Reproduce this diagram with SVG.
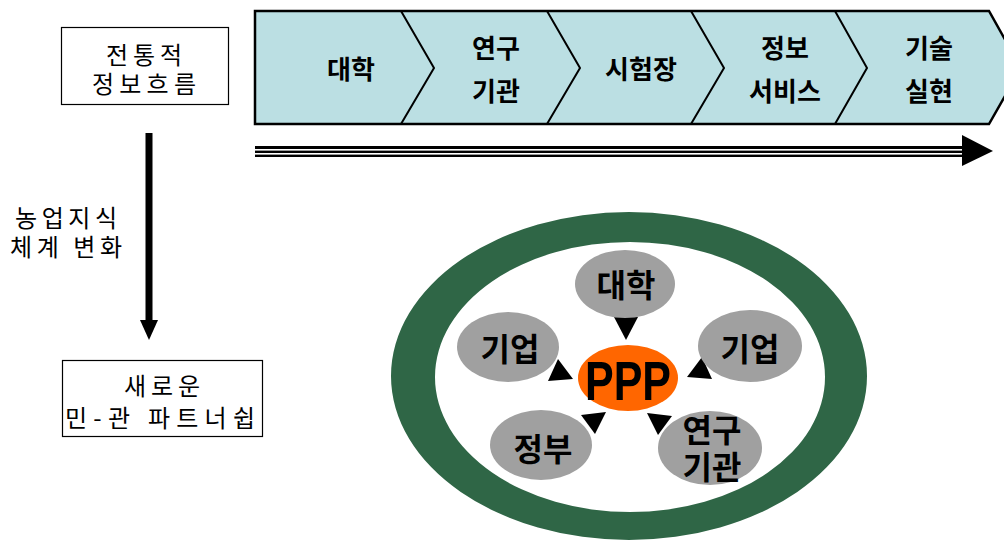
<svg xmlns="http://www.w3.org/2000/svg" width="1004" height="540" viewBox="0 0 1004 540">
<style>
.lbl{font-family:"Noto Sans CJK KR","Noto Sans",sans-serif;font-size:24px;fill:#000;text-anchor:middle}
.chv{font-family:"Noto Sans CJK KR","Noto Sans",sans-serif;font-size:26px;font-weight:bold;fill:#000;text-anchor:middle}
.bub{font-family:"Noto Sans CJK KR","Noto Sans",sans-serif;font-size:32px;font-weight:bold;fill:#000;text-anchor:middle}
.box{fill:#fff;stroke:#000;stroke-width:1.2}
.gray{fill:#A0A0A0}
.head{fill:#000}
</style>
<rect width="1004" height="540" fill="#fff"/>

<g id="chevron-bar">
  <path d="M255,11 H989 L1021,68 L989,124 H255 Z" fill="#BBDFE3" stroke="#000" stroke-width="2.5"/>
  <polyline points="401,11 434,68 401,124" fill="none" stroke="#000" stroke-width="2"/>
  <polyline points="547,11 580,68 547,124" fill="none" stroke="#000" stroke-width="2"/>
  <polyline points="691,11 724,68 691,124" fill="none" stroke="#000" stroke-width="2"/>
  <polyline points="835,11 867,68 835,124" fill="none" stroke="#000" stroke-width="2"/>
  <text class="chv" x="351" y="79">대학</text>
  <text class="chv" x="496" y="58">연구</text>
  <text class="chv" x="496" y="101">기관</text>
  <text class="chv" x="641" y="79">시험장</text>
  <text class="chv" x="785" y="58">정보</text>
  <text class="chv" x="785" y="101">서비스</text>
  <text class="chv" x="929" y="58">기술</text>
  <text class="chv" x="929" y="101">실현</text>
</g>

<g id="traditional">
  <rect class="box" x="61.5" y="27.5" width="167" height="77"/>
  <text class="lbl" x="144" y="64" textLength="76" lengthAdjust="spacing">전통적</text>
  <text class="lbl" x="144" y="93" textLength="104" lengthAdjust="spacing">정보흐름</text>
</g>

<g id="change-label">
  <text class="lbl" x="66" y="227" font-size="25" textLength="102" lengthAdjust="spacing">농업지식</text>
  <text class="lbl" x="66" y="256" font-size="25" textLength="112" lengthAdjust="spacing">체계 변화</text>
</g>

<g id="new-partnership">
  <rect class="box" x="62.5" y="360.5" width="200" height="76"/>
  <text class="lbl" x="162" y="395" textLength="76" lengthAdjust="spacing">새로운</text>
  <text class="lbl" x="160" y="427" textLength="190" lengthAdjust="spacing">민-관 파트너쉽</text>
</g>

<g id="connectors">
  <line x1="149" y1="133" x2="149" y2="322" stroke="#000" stroke-width="7"/>
  <polygon class="head" points="140,320 158,320 149,340"/>
  <rect x="255" y="146" width="709" height="11" fill="#000"/>
  <rect x="255" y="149" width="709" height="1.6" fill="#fff"/>
  <rect x="255" y="153" width="709" height="1.6" fill="#fff"/>
  <polygon class="head" points="962,135 993,151 962,166"/>
  <polygon class="head" points="614,317 638,317 626,340"/>
  <polygon class="head" points="548,381 558,359 573,379"/>
  <polygon class="head" points="702,357 712,379 687,377"/>
  <polygon class="head" points="581,415 595,434 606,412"/>
  <polygon class="head" points="672,416 658,435 647,413"/>
</g>

<g id="ring">
  <path fill-rule="evenodd" fill="#2F6646" d="M391,376 a238,164 0 1,0 476,0 a238,164 0 1,0 -476,0 Z M435,377 a195,135 0 1,0 390,0 a195,135 0 1,0 -390,0 Z"/>
</g>

<g id="ppp">
  <ellipse cx="628" cy="378" rx="50" ry="33" fill="#FF6600"/>
  <text x="628" y="400" font-family="Liberation Sans, Arial, sans-serif" font-size="56" font-weight="bold" text-anchor="middle" textLength="86" lengthAdjust="spacingAndGlyphs">PPP</text>
</g>

<g id="university">
  <ellipse class="gray" cx="625" cy="284" rx="50" ry="34"/>
  <text class="bub" x="626" y="297">대학</text>
</g>
<g id="company-left">
  <ellipse class="gray" cx="508" cy="347" rx="51" ry="35"/>
  <text class="bub" x="510" y="361">기업</text>
</g>
<g id="company-right">
  <ellipse class="gray" cx="750" cy="346" rx="52" ry="36"/>
  <text class="bub" x="750" y="361">기업</text>
</g>
<g id="government">
  <ellipse class="gray" cx="541" cy="445" rx="51" ry="35"/>
  <text class="bub" x="543" y="461">정부</text>
</g>
<g id="research">
  <ellipse class="gray" cx="710" cy="448" rx="52" ry="37"/>
  <text class="bub" x="712" y="442" font-size="30">연구</text>
  <text class="bub" x="712" y="479" font-size="30">기관</text>
</g>
</svg>
